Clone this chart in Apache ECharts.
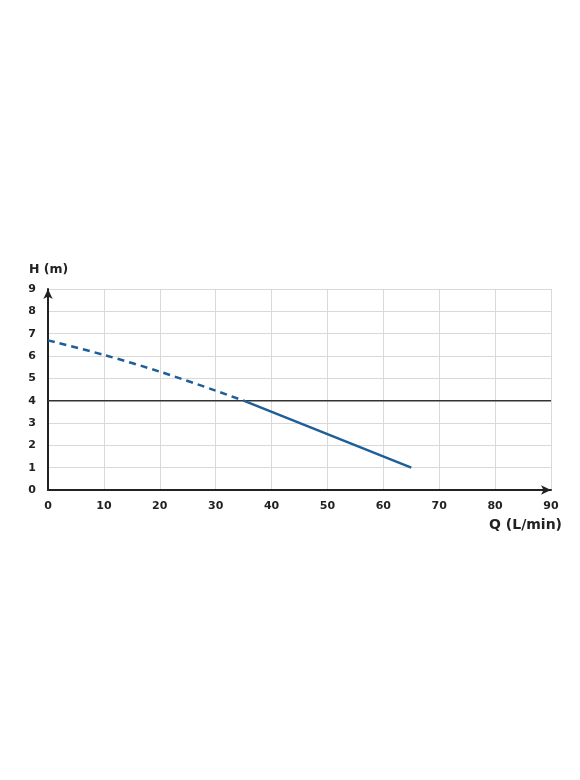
<!DOCTYPE html>
<html><head><meta charset="utf-8">
<script src="https://cdn.jsdelivr.net/npm/echarts@6/dist/echarts.min.js"></script>
<style>html,body{margin:0;padding:0;background:#fff}#c{width:580px;height:780px}</style>
</head><body><div id="c"></div>
<script>
const xTicks = [0,10,20,30,40,50,60,70,80,90];
const yTicks = [0,1,2,3,4,5,6,7,8,9];
const dashedQ = [0,10,20,30,35];
const dashedH = [6.7,6.05,5.3,4.45,4.0];
const solidQ = [35,50,65];
const solidH = [4.0,2.5,1.0];
const refQ = [0,90];
const refH = [4,4];

const zip=(a,b)=>a.map((v,i)=>[v,b[i]]);
const chart = echarts.init(document.getElementById('c'));
const font = '"DejaVu Sans", sans-serif';
const lineColor = '#1f5f99';
chart.setOption({
  animation:false,
  grid:{left:48,right:29,top:289,bottom:290},
  xAxis:{type:'value',min:xTicks[0],max:xTicks[xTicks.length-1],interval:10,
    name:'Q (L/min)',nameLocation:'end',nameGap:0,
    nameTextStyle:{fontFamily:font,fontWeight:'bold',fontSize:14,color:'#222',align:'right',verticalAlign:'top',padding:[28,-11,0,0]},
    axisLine:{show:true,lineStyle:{color:'#222',width:2},symbol:['none','arrow'],symbolSize:[7,10]},
    axisTick:{show:false},
    axisLabel:{fontFamily:font,fontWeight:'bold',fontSize:11,color:'#222',margin:11},
    splitLine:{show:true,lineStyle:{color:'#d9d9d9',width:1}}},
  yAxis:{type:'value',min:yTicks[0],max:yTicks[yTicks.length-1],interval:1,
    name:'H (m)',nameLocation:'end',nameGap:13,
    nameTextStyle:{fontFamily:font,fontWeight:'bold',fontSize:12.5,color:'#222',align:'left',padding:[0,0,0,-19]},
    axisLine:{show:true,lineStyle:{color:'#222',width:2},symbol:['none','arrow'],symbolSize:[7,10]},
    axisTick:{show:false},
    axisLabel:{fontFamily:font,fontWeight:'bold',fontSize:11,color:'#222',margin:12},
    splitLine:{show:true,lineStyle:{color:'#d9d9d9',width:1}}},
  series:[
    {type:'line',data:zip(refQ,refH),showSymbol:false,lineStyle:{color:'#333',width:1.5},z:3},
    {type:'line',data:zip(dashedQ,dashedH),showSymbol:false,smooth:0.3,lineStyle:{color:lineColor,width:2.5,type:[7,5]},z:4},
    {type:'line',data:zip(solidQ,solidH),showSymbol:false,lineStyle:{color:lineColor,width:2.5},z:4}
  ]
});
</script></body></html>
